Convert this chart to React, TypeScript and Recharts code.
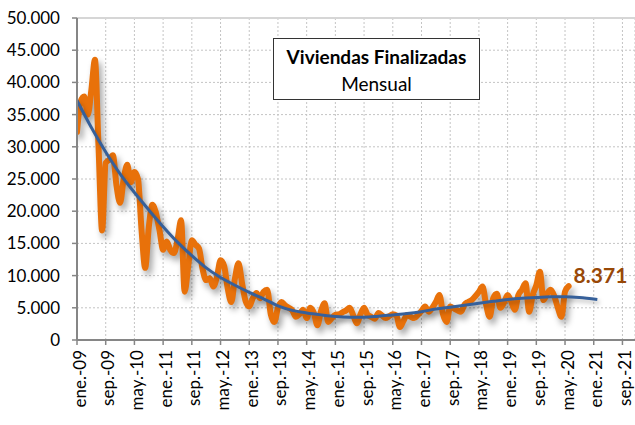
import React from "react";
import { LineChart, Line, XAxis, YAxis, CartesianGrid, ReferenceLine } from "recharts";

// Viviendas finalizadas, mensual, desde ene.-09 (índice 0) hasta jun.-20
const viviendas: number[] = [
  32300, 37000, 37800, 35000, 38800, 43500, 30000, 17000, 27500, 28000,
  28700, 24000, 21300, 25000, 27200, 24500, 26100, 25000, 17000, 11200,
  17500, 21000, 19700, 17000, 14000, 15300, 14000, 13500, 15500, 18600,
  7500, 11500, 15500, 14800, 14200, 11000, 9300, 9600, 8300, 9800,
  12400, 11500, 8000, 5900, 9500, 11900, 8800, 6000, 5200, 6500,
  7300, 6500, 7500, 7800, 4000, 2800, 5000, 5900, 5400, 5000,
  4600, 3600, 4000, 4700, 3400, 5000, 4200, 2300, 4500, 5700,
  2800, 3400, 3900, 4000, 4300, 4600, 5000, 3800, 2600, 4000,
  5000, 3900, 3600, 3300, 4200, 3800, 3400, 3700, 4000, 3800,
  2000, 3000, 3900, 3600, 3400, 3900, 4500, 5200, 4400, 5000,
  5900, 7000, 4000, 2800, 5200, 4900, 4600, 4400, 5500, 5900,
  6200, 6800, 7500, 8300, 5500, 3600, 6500, 7200, 5000, 5800,
  7000, 6000, 4700, 7000, 7800, 8800, 4400, 7000, 8500, 10600,
  6200, 7200, 7800, 6800, 5000, 3600, 7500, 8371,
];

// Línea de tendencia (polinómica), meses e importes
const tendenciaMeses: number[] = [0, 4, 8, 12, 16, 20, 24, 28, 32, 36, 40, 44, 48, 52, 56, 60, 64, 68, 72, 76, 80, 84, 88, 92, 96, 100, 104, 108, 112, 116, 120, 124, 128, 132, 136, 140, 145];
const tendenciaValores: number[] = [37200, 33000, 29200, 25800, 22900, 20200, 17600, 15200, 13100, 11200, 9700, 8500, 7400, 6400, 5300, 4600, 4200, 3900, 3650, 3550, 3550, 3700, 3900, 4100, 4400, 4800, 5100, 5400, 5700, 6000, 6300, 6500, 6600, 6700, 6700, 6600, 6300];

const mesesNombres: string[] = ["ene.", "feb.", "mar.", "abr.", "may.", "jun.", "jul.", "ago.", "sep.", "oct.", "nov.", "dic."];
const xTicks: number[] = [0, 8, 16, 24, 32, 40, 48, 56, 64, 72, 80, 88, 96, 104, 112, 120, 128, 136, 144, 152];
const yTicks: number[] = [0, 5000, 10000, 15000, 20000, 25000, 30000, 35000, 40000, 45000, 50000];

const tituloLinea1 = "Viviendas Finalizadas";
const tituloLinea2 = "Mensual";

const lastIndex = viviendas.length - 1;
const maxMes = 146;

const trendMap: Record<number, number> = {};
tendenciaMeses.forEach((m, i) => (trendMap[m] = tendenciaValores[i]));

const data = Array.from({ length: maxMes + 1 }, (_, m) => ({
  m,
  v: m < viviendas.length ? viviendas[m] : null,
  t: trendMap[m] !== undefined ? trendMap[m] : null,
}));

const fmtNum = (n: number) => String(Math.round(n)).replace(/\B(?=(\d{3})+(?!\d))/g, ".");
const fmtMes = (m: number) => `${mesesNombres[m % 12]}-${String(9 + Math.floor(m / 12)).padStart(2, "0")}`;

const FONT = "Lato, 'Open Sans', sans-serif";

const XTick = (props: any) => {
  const { x, y, payload } = props;
  const px = x + 2;
  const py = y;
  return (
    <text
      x={px}
      y={py}
      transform={`rotate(-90, ${px}, ${py})`}
      textAnchor="end"
      dominantBaseline="central"
      fontSize={17}
      fontFamily={FONT}
      fill="#000"
    >
      {fmtMes(payload.value)}
    </text>
  );
};

const LastLabel = (props: any) => {
  const { x, y, index, value } = props;
  if (index !== lastIndex || value == null) return null;
  return (
    <text x={x + 5} y={y - 12} fontSize={21} fontWeight="bold" fontFamily={FONT} fill="#984807" textAnchor="start" dominantBaseline="central">
      {fmtNum(value)}
    </text>
  );
};

export default function App() {
  return (
    <div style={{ position: "absolute", left: 0, top: 0, width: 635, height: 425, background: "#fff", fontFamily: FONT, overflow: "hidden" }}>
      <style>{`
        .serie-naranja .recharts-line-curve { filter: drop-shadow(3px 5px 3px rgba(0,0,0,0.35)); }
        .serie-azul .recharts-line-curve { filter: drop-shadow(2px 3px 2px rgba(0,0,0,0.25)); }
      `}</style>
      <LineChart width={635} height={425} data={data} margin={{ top: 18, right: 0, bottom: 0, left: 0 }}>
        <CartesianGrid stroke="#c4c4c4" strokeDasharray="2 2" strokeWidth={1} />
        <ReferenceLine y={50000} stroke="#d6d6d6" strokeWidth={2} />
        <XAxis
          type="number"
          dataKey="m"
          domain={[0, 155.5]}
          ticks={xTicks}
          interval={0}
          height={85}
          axisLine={{ stroke: "#868686", strokeWidth: 2 }}
          tickLine={{ stroke: "#868686", strokeWidth: 1.5 }}
          tickSize={5}
          tickMargin={5}
          tick={<XTick />}
          allowDataOverflow
        />
        <YAxis
          type="number"
          domain={[0, 50000]}
          ticks={yTicks}
          interval={0}
          width={77}
          axisLine={{ stroke: "#868686", strokeWidth: 2 }}
          tickLine={{ stroke: "#868686", strokeWidth: 1.5 }}
          tickSize={5}
          tickMargin={12}
          tickFormatter={fmtNum}
          tick={{ fontSize: 17, fontFamily: FONT, fill: "#000" }}
        />
        <Line
          className="serie-naranja"
          type="monotone"
          dataKey="v"
          stroke="#E8710A"
          strokeWidth={6}
          strokeLinejoin="round"
          strokeLinecap="round"
          dot={false}
          activeDot={false}
          isAnimationActive={false}
          label={<LastLabel />}
        />
        <Line
          className="serie-azul"
          type="monotone"
          dataKey="t"
          stroke="#36609A"
          strokeWidth={3}
          dot={false}
          activeDot={false}
          connectNulls
          isAnimationActive={false}
        />
      </LineChart>
      <div
        style={{
          position: "absolute",
          left: 273,
          top: 38,
          width: 207,
          height: 62,
          boxSizing: "border-box",
          border: "1px solid #333",
          background: "#fff",
          textAlign: "center",
          fontFamily: FONT,
          fontSize: 19,
          color: "#000",
          lineHeight: "27px",
          paddingTop: 4,
        }}
      >
        <div style={{ fontWeight: "bold" }}>{tituloLinea1}</div>
        <div>{tituloLinea2}</div>
      </div>
    </div>
  );
}
